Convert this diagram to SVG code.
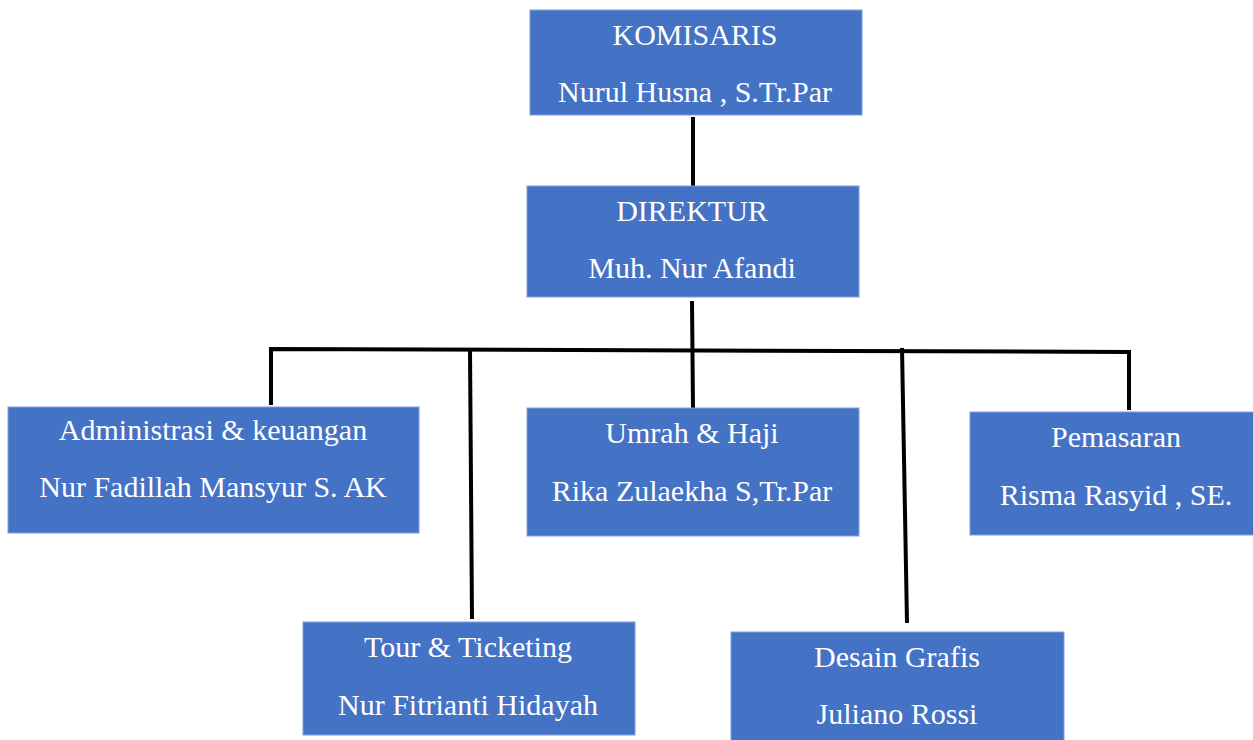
<svg xmlns="http://www.w3.org/2000/svg" width="1253" height="740" viewBox="0 0 1253 740">
  <style>
    .box { fill: #4472C4; stroke: #7f9fdc; stroke-width: 1; }
    .label { font-family: "Liberation Serif", "Times New Roman", serif; font-size: 30px; fill: #ffffff; text-anchor: middle; }
    .link { stroke: #000000; stroke-width: 4; fill: none; stroke-linecap: butt; }
  </style>
  <rect width="1253" height="740" fill="#ffffff"/>

  <!-- connectors -->
  <g id="connectors">
    <line class="link" x1="693" y1="117" x2="693" y2="186"/>
    <line class="link" x1="692" y1="301" x2="693" y2="408"/>
    <polyline class="link" points="271,405 271,349 1129,352 1129,410"/>
    <line class="link" x1="470" y1="350" x2="472" y2="619"/>
    <line class="link" x1="902" y1="348" x2="907" y2="623"/>
  </g>

  <g id="komisaris">
    <rect class="box" x="530" y="10" width="332" height="105"/>
    <text class="label" x="695" y="45">KOMISARIS</text>
    <text class="label" x="695" y="102">Nurul Husna , S.Tr.Par</text>
  </g>

  <g id="direktur">
    <rect class="box" x="527" y="186" width="332" height="111"/>
    <text class="label" x="692" y="221">DIREKTUR</text>
    <text class="label" x="692" y="278">Muh. Nur Afandi</text>
  </g>

  <g id="administrasi">
    <rect class="box" x="8" y="407" width="411" height="126"/>
    <text class="label" x="213" y="440">Administrasi &amp; keuangan</text>
    <text class="label" x="213" y="497">Nur Fadillah Mansyur S. AK</text>
  </g>

  <g id="umrah-haji">
    <rect class="box" x="527" y="408" width="332" height="128"/>
    <text class="label" x="692" y="443">Umrah &amp; Haji</text>
    <text class="label" x="692" y="501">Rika Zulaekha S,Tr.Par</text>
  </g>

  <g id="pemasaran">
    <rect class="box" x="970" y="412" width="290" height="123"/>
    <text class="label" x="1116" y="447">Pemasaran</text>
    <text class="label" x="1116" y="505">Risma Rasyid , SE.</text>
  </g>

  <g id="tour-ticketing">
    <rect class="box" x="303" y="622" width="332" height="113"/>
    <text class="label" x="468" y="657">Tour &amp; Ticketing</text>
    <text class="label" x="468" y="715">Nur Fitrianti Hidayah</text>
  </g>

  <g id="desain-grafis">
    <rect class="box" x="731" y="632" width="333" height="115"/>
    <text class="label" x="897" y="667">Desain Grafis</text>
    <text class="label" x="897" y="724">Juliano Rossi</text>
  </g>
</svg>
